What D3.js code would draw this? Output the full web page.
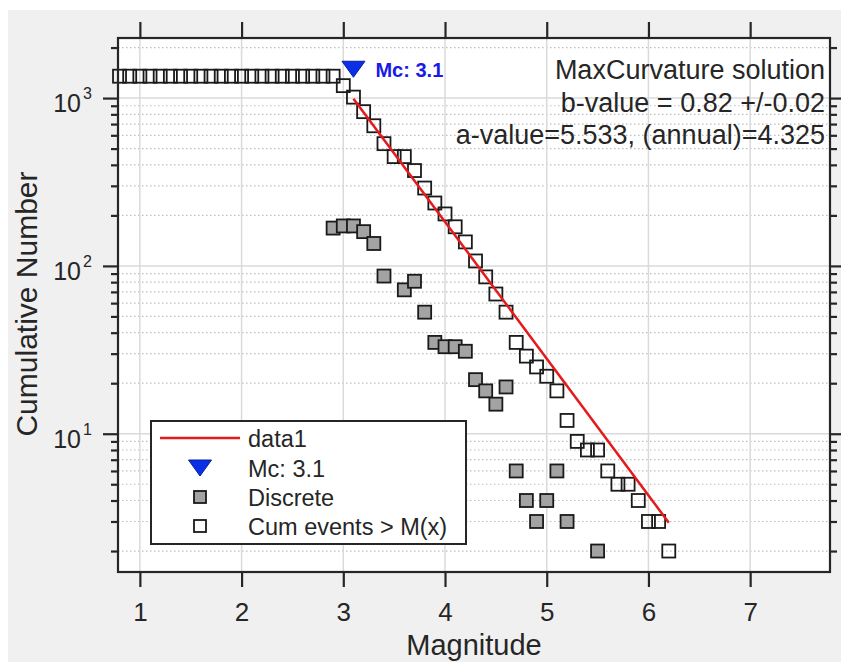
<!DOCTYPE html>
<html>
<head>
<meta charset="utf-8">
<script src="https://cdn.jsdelivr.net/npm/d3@7"></script>
<style>
  body { margin: 0; background: #fff; }
  text { font-family: "Liberation Sans", Arial, sans-serif; fill: #262626; }
</style>
</head>
<body>
<div id="chart"></div>
<script>
// cumulative number of events >= M (open squares)
var cumMag = [0.8, 0.9, 1.0, 1.1, 1.2, 1.3, 1.4, 1.5, 1.6, 1.7, 1.8, 1.9, 2.0, 2.1, 2.2, 2.3, 2.4, 2.5, 2.6, 2.7, 2.8, 2.9,
              3.0, 3.1, 3.2, 3.3, 3.4, 3.5, 3.6, 3.7, 3.8, 3.9, 4.0, 4.1, 4.2, 4.3, 4.4, 4.5, 4.6, 4.7, 4.8, 4.9,
              5.0, 5.1, 5.2, 5.3, 5.4, 5.5, 5.6, 5.7, 5.8, 5.9, 6.0, 6.1, 6.2];
var cumN = [1350, 1350, 1350, 1350, 1350, 1350, 1350, 1350, 1350, 1350, 1350, 1350, 1350, 1350, 1350, 1350, 1350, 1350, 1350, 1350, 1350, 1350,
            1186, 1013, 830, 684, 535, 448, 448, 370, 291, 237, 204, 171, 139, 107, 86, 68, 53, 35, 29, 25,
            22, 18, 12, 9, 8, 8, 6, 5, 5, 4, 3, 3, 2];

// discrete counts per magnitude bin (grey squares)
var discMag = [2.9, 3.0, 3.1, 3.2, 3.3, 3.4, 3.6, 3.7, 3.8, 3.9, 4.0, 4.1, 4.2, 4.3, 4.4, 4.5, 4.6, 4.7, 4.8, 4.9, 5.0, 5.1, 5.2, 5.5];
var discN = [168, 173, 173, 160, 136, 87, 72, 81, 53, 35, 33, 33, 31, 21, 18, 15, 19, 6, 4, 3, 4, 6, 3, 2];

// fitted G-R line (data1) and Mc marker
var fitMag = [3.1, 6.2];
var fitN = [990, 2.95];
var mcMag = [3.1];
var mcN = [1485];

var xTicks = [1, 2, 3, 4, 5, 6, 7];
var yMajor = [10, 100, 1000];
var yMinor = [2, 3, 4, 5, 6, 7, 8, 9, 20, 30, 40, 50, 60, 70, 80, 90, 200, 300, 400, 500, 600, 700, 800, 900, 2000];
var infoLines = ["MaxCurvature solution", "b-value = 0.82 +/-0.02", "a-value=5.533, (annual)=4.325"];
var legendLabels = ["data1", "Mc: 3.1", "Discrete", "Cum events > M(x)"];

var W = 841, H = 662;
var box = {left: 118, right: 830, top: 38, bottom: 572};

var svg = d3.select("#chart").append("svg")
    .attr("width", W)
    .attr("height", H);

// figure background
svg.append("rect")
    .attr("x", 8).attr("y", 10)
    .attr("width", W - 8).attr("height", H - 10)
    .attr("fill", "#f0f0f0");

var x = d3.scaleLinear().domain([0.785, 7.785]).range([box.left, box.right]);
var y = d3.scaleLog().domain([1.5, 2280]).range([box.bottom, box.top]);

// axes area
svg.append("rect")
    .attr("x", box.left).attr("y", box.top)
    .attr("width", box.right - box.left).attr("height", box.bottom - box.top)
    .attr("fill", "#fff");

// grid
var grid = svg.append("g");
grid.selectAll(".gminor").data(yMinor).enter().append("line")
    .attr("x1", box.left).attr("x2", box.right)
    .attr("y1", function(d) { return y(d); }).attr("y2", function(d) { return y(d); })
    .attr("stroke", "#bdbdbd").attr("stroke-width", 1.2)
    .attr("stroke-dasharray", "1.5,2.5");
grid.selectAll(".gx").data(xTicks).enter().append("line")
    .attr("x1", function(d) { return x(d); }).attr("x2", function(d) { return x(d); })
    .attr("y1", box.top).attr("y2", box.bottom)
    .attr("stroke", "#dadada").attr("stroke-width", 1.5);
grid.selectAll(".gy").data(yMajor).enter().append("line")
    .attr("x1", box.left).attr("x2", box.right)
    .attr("y1", function(d) { return y(d); }).attr("y2", function(d) { return y(d); })
    .attr("stroke", "#dadada").attr("stroke-width", 1.5);

// markers
var sq = 13;
var plot = svg.append("g");
plot.selectAll(".disc").data(discMag).enter().append("rect")
    .attr("x", function(d) { return x(d) - sq / 2; })
    .attr("y", function(d, i) { return y(discN[i]) - sq / 2; })
    .attr("width", sq).attr("height", sq)
    .attr("fill", "#a3a3a3").attr("stroke", "#1a1a1a").attr("stroke-width", 1.8);

plot.selectAll(".cum").data(cumMag).enter().append("rect")
    .attr("x", function(d) { return x(d) - sq / 2; })
    .attr("y", function(d, i) { return y(cumN[i]) - sq / 2; })
    .attr("width", sq).attr("height", sq)
    .attr("fill", "none").attr("stroke", "#1a1a1a").attr("stroke-width", 1.8);

var line = d3.line()
    .x(function(d) { return x(d[0]); })
    .y(function(d) { return y(d[1]); });
plot.append("path")
    .datum(fitMag.map(function(m, i) { return [m, fitN[i]]; }))
    .attr("d", line)
    .attr("fill", "none").attr("stroke", "#e41a1c").attr("stroke-width", 2.5);

function tri(cx, cy) {
  var w = 11.5, h = 16;
  return "M" + (cx - w) + "," + (cy - h / 2) + "L" + (cx + w) + "," + (cy - h / 2) + "L" + cx + "," + (cy + h / 2) + "Z";
}
plot.selectAll(".mc").data(mcMag).enter().append("path")
    .attr("d", function(d, i) { return tri(x(d), y(mcN[i])); })
    .attr("fill", "#0a2fe6").attr("stroke", "#0b1f9c").attr("stroke-width", 1);

plot.append("text")
    .attr("x", x(mcMag[0]) + 22).attr("y", y(mcN[0]) + 8)
    .style("font-size", "20px").style("font-weight", "bold")
    .style("fill", "#1a1ae6")
    .text(legendLabels[1]);

// info text
svg.selectAll(".info").data(infoLines).enter().append("text")
    .attr("x", 825)
    .attr("y", function(d, i) { return 79 + i * 32.5; })
    .attr("text-anchor", "end")
    .style("font-size", "27px")
    .text(function(d) { return d; });

// axes: ticks outward on all four sides
var axisCol = "#262626";
var gb = svg.append("g").attr("transform", "translate(0," + box.bottom + ")")
    .call(d3.axisBottom(x).tickValues(xTicks).tickSize(15).tickSizeOuter(0).tickPadding(16).tickFormat(d3.format("d")));
var gt = svg.append("g").attr("transform", "translate(0," + box.top + ")")
    .call(d3.axisTop(x).tickValues(xTicks).tickSize(16).tickSizeOuter(0).tickFormat(""));
var gl = svg.append("g").attr("transform", "translate(" + box.left + ",0)")
    .call(d3.axisLeft(y).tickValues(yMajor).tickSize(15).tickSizeOuter(0).tickFormat(""));
var glm = svg.append("g").attr("transform", "translate(" + box.left + ",0)")
    .call(d3.axisLeft(y).tickValues(yMinor).tickSize(7).tickSizeOuter(0).tickFormat(""));
var gr = svg.append("g").attr("transform", "translate(" + box.right + ",0)")
    .call(d3.axisRight(y).tickValues(yMajor).tickSize(15).tickSizeOuter(0).tickFormat(""));
var grm = svg.append("g").attr("transform", "translate(" + box.right + ",0)")
    .call(d3.axisRight(y).tickValues(yMinor).tickSize(7).tickSizeOuter(0).tickFormat(""));

[gb, gt, gl, glm, gr, grm].forEach(function(g) {
  g.select(".domain").remove();
  g.selectAll(".tick line").attr("stroke", axisCol).attr("stroke-width", 2.2);
});
gb.selectAll(".tick text")
    .attr("fill", axisCol)
    .style("font-size", "26px")
    .style("font-family", "'Liberation Sans', Arial, sans-serif");

// y tick labels 10^n
var ylab = svg.append("g");
yMajor.forEach(function(v) {
  var ty = y(v);
  ylab.append("text")
      .attr("x", 81).attr("y", ty + 14)
      .attr("text-anchor", "end")
      .style("font-size", "25px")
      .text("10");
  ylab.append("text")
      .attr("x", 83).attr("y", ty + 1)
      .style("font-size", "16px")
      .text(String(Math.round(Math.log10(v))));
});

// box
svg.append("rect")
    .attr("x", box.left).attr("y", box.top)
    .attr("width", box.right - box.left).attr("height", box.bottom - box.top)
    .attr("fill", "none").attr("stroke", axisCol).attr("stroke-width", 2.2);

// axis labels
svg.append("text")
    .attr("x", 474).attr("y", 655)
    .attr("text-anchor", "middle")
    .style("font-size", "29px")
    .text("Magnitude");
svg.append("text")
    .attr("transform", "translate(37,304) rotate(-90)")
    .attr("text-anchor", "middle")
    .style("font-size", "30px")
    .text("Cumulative Number");

// legend
var leg = svg.append("g");
leg.append("rect")
    .attr("x", 151).attr("y", 421)
    .attr("width", 315).attr("height", 123)
    .attr("fill", "#fff").attr("stroke", axisCol).attr("stroke-width", 2);
var rowY = [438, 468, 497, 526];
leg.append("line")
    .attr("x1", 160).attr("x2", 240).attr("y1", rowY[0]).attr("y2", rowY[0])
    .attr("stroke", "#e41a1c").attr("stroke-width", 2.5);
leg.append("path")
    .attr("d", tri(200, rowY[1]))
    .attr("fill", "#0a2fe6").attr("stroke", "#0b1f9c").attr("stroke-width", 1);
leg.append("rect")
    .attr("x", 200 - 6).attr("y", rowY[2] - 6).attr("width", 12).attr("height", 12)
    .attr("fill", "#a3a3a3").attr("stroke", "#1a1a1a").attr("stroke-width", 1.8);
leg.append("rect")
    .attr("x", 200 - 6).attr("y", rowY[3] - 6).attr("width", 12).attr("height", 12)
    .attr("fill", "#fff").attr("stroke", "#1a1a1a").attr("stroke-width", 1.8);
leg.selectAll(".ltxt").data(legendLabels).enter().append("text")
    .attr("x", 248)
    .attr("y", function(d, i) { return rowY[i] + 9; })
    .style("font-size", "23.5px")
    .text(function(d) { return d; });
</script>
</body>
</html>
